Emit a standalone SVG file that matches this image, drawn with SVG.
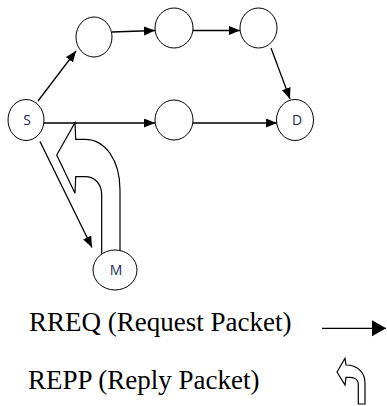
<svg xmlns="http://www.w3.org/2000/svg" width="387" height="406" viewBox="0 0 387 406">
<style>
.node{fill:#fff;stroke:#000;stroke-width:1}
.lbl{font-family:"Open Sans","Liberation Sans",sans-serif;font-size:14px;fill:#1f2a50;text-anchor:middle}
.edge{stroke:#000;stroke-width:1.3;fill:none}
.hollow{fill:#fff;stroke:#000;stroke-width:1.2;stroke-linejoin:miter}
.leg{font-family:"Liberation Serif","Times New Roman",serif;font-size:27px;fill:#000}
</style>
<defs>
<marker id="ah" markerUnits="userSpaceOnUse" markerWidth="12" markerHeight="10" refX="11" refY="4.5" orient="auto">
<path d="M0,0 L11,4.5 L0,9 z" fill="#000"/>
</marker>
<marker id="ahL" markerUnits="userSpaceOnUse" markerWidth="15" markerHeight="17" refX="14" refY="8" orient="auto">
<path d="M0,0 L14,8 L0,16 z" fill="#000"/>
</marker>
</defs>
<rect width="387" height="406" fill="#fff"/>
<g id="connectors">
<line class="edge" x1="38" y1="101" x2="76" y2="51" marker-end="url(#ah)"/>
<line class="edge" x1="112" y1="32" x2="155" y2="30.5" marker-end="url(#ah)"/>
<line class="edge" x1="193" y1="30.5" x2="240" y2="30.5" marker-end="url(#ah)"/>
<line class="edge" x1="271" y1="48" x2="290" y2="99" marker-end="url(#ah)"/>
<line class="edge" x1="44" y1="123" x2="155" y2="123" marker-end="url(#ah)"/>
<line class="edge" x1="185" y1="123" x2="277" y2="123" marker-end="url(#ah)"/>
<line class="edge" x1="40" y1="141.5" x2="92" y2="247.5" marker-end="url(#ah)"/>
<path id="reply" class="hollow" d="M75,122.7 L75.7,139.3 L85,139.3 C105,139.3 120,160 120,190 L120,252 L101.7,254 L101.7,195 C101.7,184 95,176.7 85,176.7 L75.7,176.7 L75,193.3 L56.7,155 Z"/>
</g>
<g id="n-S"><ellipse class="node" cx="26" cy="120" rx="18" ry="20.5"/><text class="lbl" x="27" y="125">S</text></g>
<g id="n-1"><ellipse class="node" cx="94" cy="37" rx="18" ry="20"/></g>
<g id="n-2"><ellipse class="node" cx="174" cy="28" rx="19" ry="20"/></g>
<g id="n-3"><ellipse class="node" cx="258.5" cy="28" rx="18.5" ry="20"/></g>
<g id="n-mid"><ellipse class="node" cx="174" cy="120" rx="19" ry="20"/></g>
<g id="n-D"><ellipse class="node" cx="295" cy="120" rx="18.5" ry="20.5"/><text class="lbl" x="297" y="125">D</text></g>
<g id="n-M"><ellipse class="node" cx="115" cy="270" rx="22" ry="20"/><text class="lbl" x="116" y="275">M</text></g>
<g id="legend">
<text class="leg" x="29" y="331">RREQ (Request Packet)</text>
<line class="edge" x1="322" y1="328.3" x2="386" y2="328.3" stroke-width="2.2" marker-end="url(#ahL)"/>
<text class="leg" x="28" y="389">REPP (Reply Packet)</text>
<path class="hollow" stroke-width="1.6" d="M337,372 L345,358.3 L346,365 C357,365 365,372 365,383.3 L365,404 L358.3,404 L358.3,384 C358.3,380 355,377.3 350,377.3 L346,377.3 L345,385 Z"/>
</g>
</svg>
